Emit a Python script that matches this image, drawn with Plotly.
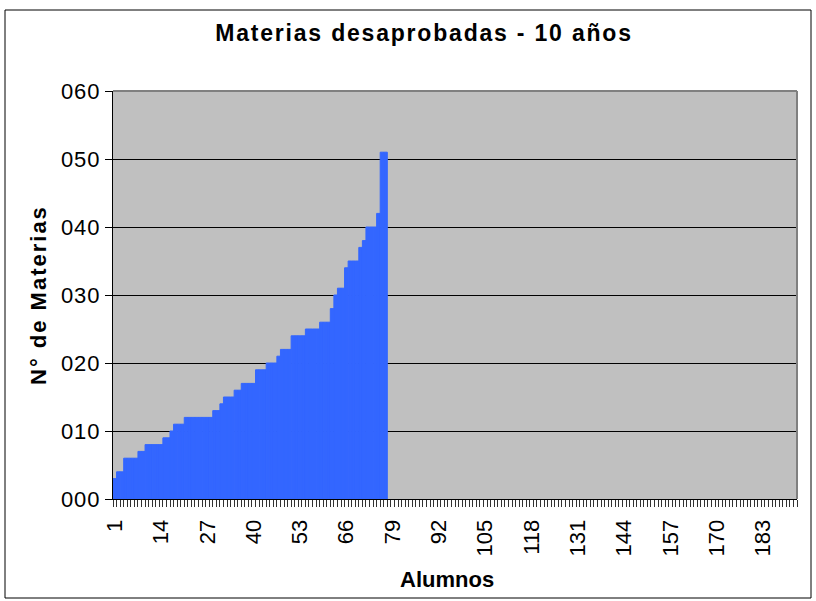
import plotly.graph_objects as go

# ---------------- data ----------------
title_text = "Materias desaprobadas - 10 años"
x_title = "Alumnos"
y_title = "N° de Materias"

materias = [3, 4, 4, 6, 6, 6, 6, 7, 7, 8, 8, 8, 8, 8, 9, 9, 10, 11, 11, 11,
            12, 12, 12, 12, 12, 12, 12, 12, 13, 13, 14, 15, 15, 15, 16, 16,
            17, 17, 17, 17, 19, 19, 19, 20, 20, 20, 21, 22, 22, 22, 24, 24,
            24, 24, 25, 25, 25, 25, 26, 26, 26, 28, 30, 31, 31, 34, 35, 35,
            35, 37, 38, 40, 40, 40, 42, 51, 51]
alumnos = list(range(1, len(materias) + 1))
n_categorias = 192
x_ticks = [1, 14, 27, 40, 53, 66, 79, 92, 105, 118, 131, 144, 157, 170, 183]
y_ticks = [0, 10, 20, 30, 40, 50, 60]
y_tick_labels = ["000", "010", "020", "030", "040", "050", "060"]

# ---------------- geometry helpers ----------------
L, R, T, B = 113, 797, 91, 499
W, H = 816, 601


def px(x):
    return (x - L) / (R - L)


def py(y):
    return (B - y) / (B - T)


def spaced(s, sp):
    return '<span style="letter-spacing:%spx">%s</span>' % (sp, s)


FONT = "Liberation Sans, Arial, sans-serif"
BLUE = "#3366FF"

fig = go.Figure()
fig.add_trace(go.Bar(
    x=alumnos, y=materias,
    marker=dict(color=BLUE, line=dict(color=BLUE, width=1)),
    width=1.0,
))

fig.update_layout(
    width=W, height=H,
    margin=dict(l=L, r=W - R, t=T, b=H - B, pad=0),
    paper_bgcolor="white",
    plot_bgcolor="#C0C0C0",
    showlegend=False,
    bargap=0,
    font=dict(family=FONT, color="black"),
    title=dict(
        text=spaced(title_text, 1.8),
        font=dict(family=FONT, size=23, color="black", weight="bold"),
        x=424 / W, xref="container", xanchor="center",
        y=1 - 33 / H, yref="container", yanchor="middle",
    ),
    xaxis=dict(
        range=[0.5, n_categorias + 0.5],
        tickmode="array",
        tickvals=x_ticks,
        ticktext=[str(v) for v in x_ticks],
        tickangle=-90,
        ticks="",
        tickfont=dict(family=FONT, size=22, color="black"),
        ticklabelstandoff=11,
        showgrid=False,
        zeroline=False,
        showline=True, linecolor="black", linewidth=1,
        minor=dict(
            tickmode="array",
            tickvals=[i + 0.5 for i in range(n_categorias + 1)],
            ticks="outside", ticklen=7, tickcolor="#333333", tickwidth=1,
            showgrid=False,
        ),
        fixedrange=True,
    ),
    yaxis=dict(
        range=[0, 60],
        tickmode="array",
        tickvals=y_ticks,
        ticktext=[spaced(t, 1) for t in y_tick_labels],
        ticks="outside", ticklen=7, tickcolor="black", tickwidth=1,
        tickfont=dict(family=FONT, size=22, color="black"),
        showgrid=True, gridcolor="black", gridwidth=1,
        zeroline=False,
        showline=True, linecolor="black", linewidth=1,
        fixedrange=True,
    ),
    annotations=[
        dict(text="<b>" + spaced(y_title, 2) + "</b>", x=px(38), y=py(295),
             xref="paper", yref="paper", showarrow=False, textangle=-90,
             xanchor="center", yanchor="middle",
             font=dict(family=FONT, size=22, color="black")),
        dict(text="<b>" + x_title + "</b>", x=px(447), y=py(579),
             xref="paper", yref="paper", showarrow=False,
             xanchor="center", yanchor="middle",
             font=dict(family=FONT, size=22, color="black")),
    ],
    shapes=[
        # plot-area top & right border (gray)
        dict(type="line", xref="paper", yref="paper", x0=0, x1=1, y0=1, y1=1,
             line=dict(color="#808080", width=2)),
        dict(type="line", xref="paper", yref="paper", x0=1, x1=1, y0=0, y1=1,
             line=dict(color="#808080", width=2)),
        # outer chart border
        dict(type="rect", xref="paper", yref="paper",
             x0=px(5), x1=px(811), y0=py(598), y1=py(10),
             line=dict(color="black", width=1), fillcolor="rgba(0,0,0,0)"),
    ],
)

fig.write_html("out.html",
               config={"displayModeBar": False, "staticPlot": True},
               post_script="document.body.style.margin='0';"
                           "document.body.style.overflow='hidden';")
